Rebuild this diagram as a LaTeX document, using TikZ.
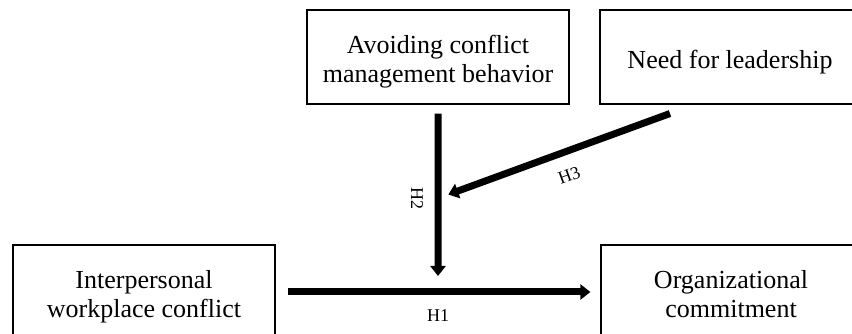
\documentclass[tikz,border=0pt]{standalone}
\usepackage{fontspec}
\setmainfont{Liberation Serif}
\usetikzlibrary{arrows.meta,calc}
\newcommand{\tallstrut}{\rule{0pt}{31pt}}

\begin{document}
\begin{tikzpicture}[x=1pt,y=1pt,
  box/.style={draw,line width=1.2pt,minimum width=262pt,minimum height=94pt,
    align=center,inner sep=0pt,font=\fontsize{26}{29}\selectfont},
  link/.style={line width=7pt,-{Triangle[length=10pt,width=15pt]}},
  hyp/.style={font=\fontsize{18}{20}\selectfont,inner sep=0pt}]
\clip (0,0) rectangle (852,334);
\node[box] (ac) at (438,277) {\tallstrut Avoiding conflict\\management behavior\strut};
\node[box,minimum width=260pt] (nl) at (730,277) {\tallstrut Need for leadership\strut};
\node[box] (iwc) at (144,42) {\tallstrut Interpersonal\\workplace conflict\strut};
\node[box,minimum width=260pt] (oc) at (731,42) {\tallstrut Organizational\\commitment\strut};
\coordinate (m) at ($(iwc.east)!0.5!(oc.west)$);
\coordinate (k) at ($(ac.south)!0.5!(m)$);
\coordinate (h3s) at ([xshift=95pt]nl.south west);
\draw[link,shorten <=12pt,shorten >=10pt] (iwc.east) -- (oc.west)
  node[hyp,midway,yshift=-24pt] (h1) {H1};
\draw[link,shorten <=9pt,shorten >=16pt] (ac.south) -- (m)
  node[hyp,midway,xshift=-21pt,rotate=-90] (h2) {H2};
\draw[link,shorten <=26pt,shorten >=11pt] (h3s) -- (k)
  node[hyp,pos=0.52,sloped,below=14pt] (h3) {H3};
\end{tikzpicture}
\end{document}
